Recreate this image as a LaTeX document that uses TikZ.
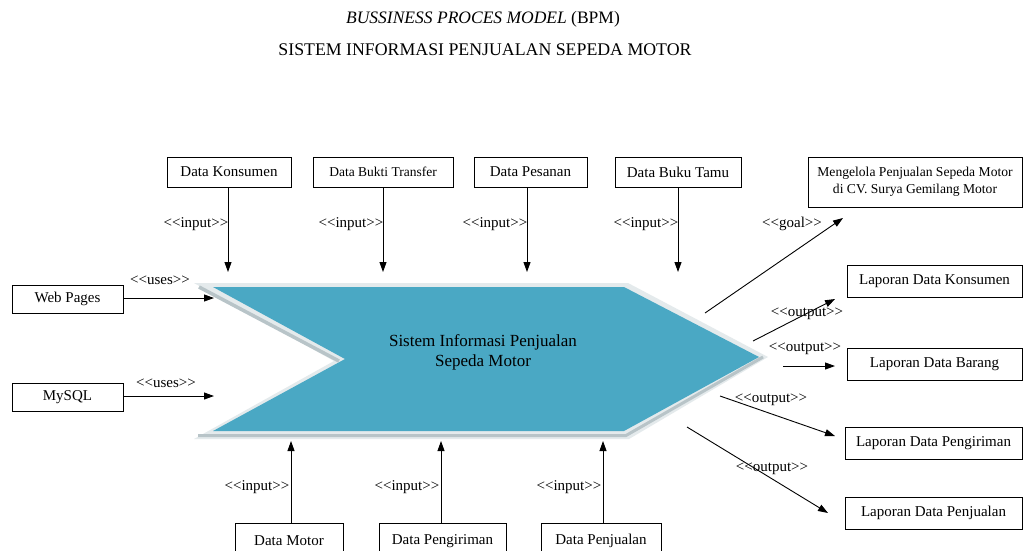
\documentclass[tikz,border=0pt]{standalone}
\usepackage{fontspec}
\setmainfont{Liberation Serif}
\usetikzlibrary{arrows.meta}
\definecolor{chev}{RGB}{74,168,196}
\definecolor{chevlight}{RGB}{228,234,236}
\definecolor{chevdark}{RGB}{184,196,200}
\begin{document}
\begin{tikzpicture}[x=1pt,y=-1pt,
  box/.style={draw, line width=0.9pt, inner sep=0pt, font=\fontsize{15}{17}\selectfont},
  lbl/.style={font=\fontsize{15}{17}\selectfont, inner sep=0.5pt},
  arr/.style={line width=0.9pt, -{Triangle[length=10pt,width=7pt]}}]
\useasboundingbox (0,0) rectangle (1024,550);
\clip (0,0) rectangle (1024,550);
\fill[white] (0,0) rectangle (1024,550);

% titles
\node (t1) at (483,19) {\fontsize{17.5}{20}\selectfont\textit{BUSSINESS PROCES MODEL} (BPM)};
\node (t2) at (485,50) {\fontsize{17.8}{20}\selectfont SISTEM INFORMASI PENJUALAN SEPEDA MOTOR};

% chevron
\fill[chevlight] (194,283) -- (628,283) -- (768,357) -- (629,439) -- (194,439) -- (334,361) -- cycle;
\draw[chevdark, line width=3.5pt] (199,287) -- (339,361);
\draw[chevdark, line width=3pt] (198,435.5) -- (626,435.5) -- (763,357);
\fill[chev] (213,287) -- (624,287) -- (759,357) -- (624,431) -- (213,431) -- (345,359) -- cycle;
\node[align=center, font=\fontsize{17}{20}\selectfont] (sys) at (483,352) {Sistem Informasi Penjualan\\Sepeda Motor};

% top input boxes
\node[box, minimum width=124pt, minimum height=30pt] (dk) at (229,172) {Data Konsumen};
\node[box, minimum width=140pt, minimum height=30pt, font=\fontsize{13.5}{15}\selectfont] (dbt) at (383,172) {Data Bukti Transfer};
\node[box, minimum width=113pt, minimum height=30pt] (dp) at (530.5,172) {Data Pesanan};
\node[box, minimum width=126pt, minimum height=30pt] (dbu) at (678,172) {Data Buku Tamu};

\coordinate (a1) at (228,272);
\coordinate (a2) at (383,272);
\coordinate (a3) at (527,272);
\coordinate (a4) at (678,272);
\draw[arr] (dk.south -| a1) -- (a1);
\draw[arr] (dbt.south -| a2) -- (a2);
\draw[arr] (dp.south -| a3) -- (a3);
\draw[arr] (dbu.south -| a4) -- (a4);
\node[lbl, anchor=east] (l1) at (229,224) {{<}{<}input{>}{>}};
\node[lbl, anchor=east] (l2) at (384,224) {{<}{<}input{>}{>}};
\node[lbl, anchor=east] (l3) at (528,224) {{<}{<}input{>}{>}};
\node[lbl, anchor=east] (l4) at (679,224) {{<}{<}input{>}{>}};

% goal
\node[box, minimum width=214pt, minimum height=50pt, align=center, font=\fontsize{13.6}{17}\selectfont] (goal) at (915,182) {Mengelola Penjualan Sepeda Motor\\di CV. Surya Gemilang Motor};
\coordinate (gs) at (705,313);
\coordinate (ge) at (843,218);
\draw[arr] (gs) -- (ge);
\node[lbl] (lg) at (792,224) {{<}{<}goal{>}{>}};

% outputs
\node[box, minimum width=175pt, minimum height=32pt] (ldk) at (934.5,281) {Laporan Data Konsumen};
\node[box, minimum width=175pt, minimum height=32pt] (ldb) at (934.5,364) {Laporan Data Barang};
\node[box, minimum width=177pt, minimum height=32pt] (ldpg) at (933.5,443) {Laporan Data Pengiriman};
\node[box, minimum width=177pt, minimum height=32pt] (ldpj) at (933.5,513) {Laporan Data Penjualan};

\coordinate (o1s) at (753,341); \coordinate (o1e) at (835,299);
\coordinate (o2s) at (783,366); \coordinate (o2e) at (835,366);
\coordinate (o3s) at (720,396); \coordinate (o3e) at (835,436);
\coordinate (o4s) at (687,427); \coordinate (o4e) at (828,513);
\draw[arr] (o1s) -- (o1e);
\draw[arr] (o2s) -- (o2e);
\draw[arr] (o3s) -- (o3e);
\draw[arr] (o4s) -- (o4e);
\node[lbl] (lo1) at (807,314) {{<}{<}output{>}{>}};
\node[lbl] (lo2) at (805,349) {{<}{<}output{>}{>}};
\node[lbl] (lo3) at (771,400) {{<}{<}output{>}{>}};
\node[lbl] (lo4) at (772,469) {{<}{<}output{>}{>}};

% left
\node[box, minimum width=111pt, minimum height=28pt] (wp) at (67.5,299) {Web Pages};
\node[box, minimum width=111pt, minimum height=28pt] (my) at (67.5,397) {MySQL};
\coordinate (u1) at (214,298);
\coordinate (u2) at (214,396);
\draw[arr] (wp.east |- u1) -- (u1);
\draw[arr] (my.east |- u2) -- (u2);
\node[lbl] (lu1) at (160,280) {{<}{<}uses{>}{>}};
\node[lbl] (lu2) at (166,383) {{<}{<}uses{>}{>}};

% bottom inputs
\node[box, minimum width=108pt, minimum height=36pt] (dm) at (289,541) {Data Motor};
\node[box, minimum width=127pt, minimum height=36pt] (dpg) at (442.5,541) {Data Pengiriman};
\node[box, minimum width=120pt, minimum height=36pt] (dpj) at (601,541) {Data Penjualan};
\coordinate (b1) at (291,441);
\coordinate (b2) at (441,441);
\coordinate (b3) at (603,441);
\draw[arr] (dm.north -| b1) -- (b1);
\draw[arr] (dpg.north -| b2) -- (b2);
\draw[arr] (dpj.north -| b3) -- (b3);
\node[lbl, anchor=east] (lb1) at (290,487) {{<}{<}input{>}{>}};
\node[lbl, anchor=east] (lb2) at (440,487) {{<}{<}input{>}{>}};
\node[lbl, anchor=east] (lb3) at (602,487) {{<}{<}input{>}{>}};
\end{tikzpicture}
\end{document}
